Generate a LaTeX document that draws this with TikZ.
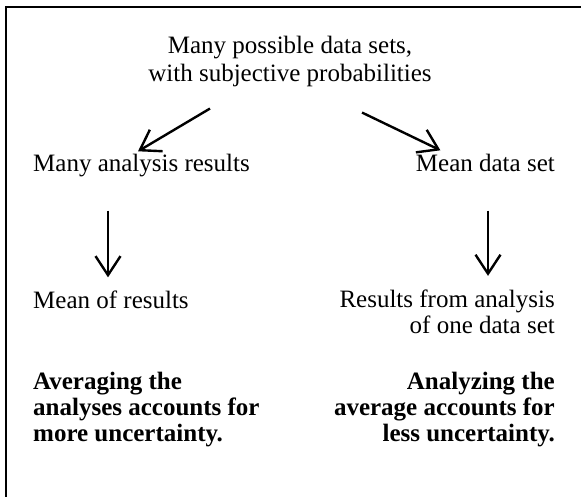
\documentclass[tikz,border=0pt]{standalone}
\usepackage{fontspec}
\setmainfont{Liberation Serif}
\usetikzlibrary{positioning,arrows.meta}

\begin{document}
\begin{tikzpicture}[x=1pt, y=-1pt,
      every node/.style={font=\fontsize{25}{26}\selectfont, inner sep=0pt},
      oneline/.style={text height=17pt, text depth=6pt},
      lefttxt/.style={anchor=west, align=left},
      righttxt/.style={anchor=east, align=right},
      verdict/.style={font=\fontsize{25}{26}\selectfont\bfseries},
      arr/.style={-{Straight Barb[length=19pt,width=25pt]}, line width=2.4pt}
  ]
    \useasboundingbox (0,0) rectangle (581,497);
    % frame, only top and left edge fall inside the page
    \draw[line width=2.6pt] (6,520) -- (6,7) -- (600,7);
    \node[align=center, font=\fontsize{25}{28}\selectfont] (sets) at (290,61) {Many possible data sets,\\with subjective probabilities};
    \node[lefttxt, oneline] (manyres) at (33,166) {Many analysis results};
    \node[righttxt, oneline] (meanset) at (555,166) {Mean data set};
    \node[lefttxt, oneline] (meanres) at (33,303) {Mean of results};
    \node[righttxt] (oneres) at (555,312) {Results from analysis\\of one data set};
    \node[lefttxt, verdict] (more) at (33,410) {Averaging the\\analyses accounts for\\more uncertainty.};
    \node[righttxt, verdict] (less) at (555,410) {Analyzing the\\average accounts for\\less uncertainty.};
    \draw[arr] ([shift={(-80,22)}]sets.south) -- ([shift={(105,-3)}]manyres.north west);
    \draw[arr] ([shift={(72,26)}]sets.south) -- ([shift={(-45,-4)}]meanset.north);
    \draw[arr] ([shift={(75,33)}]manyres.south west) -- ([shift={(75,-14)}]meanres.north west);
    \draw[arr] ([shift={(-67,33)}]meanset.south east) -- ([shift={(-67,-14)}]oneres.north east);
  \end{tikzpicture}
\end{document}
